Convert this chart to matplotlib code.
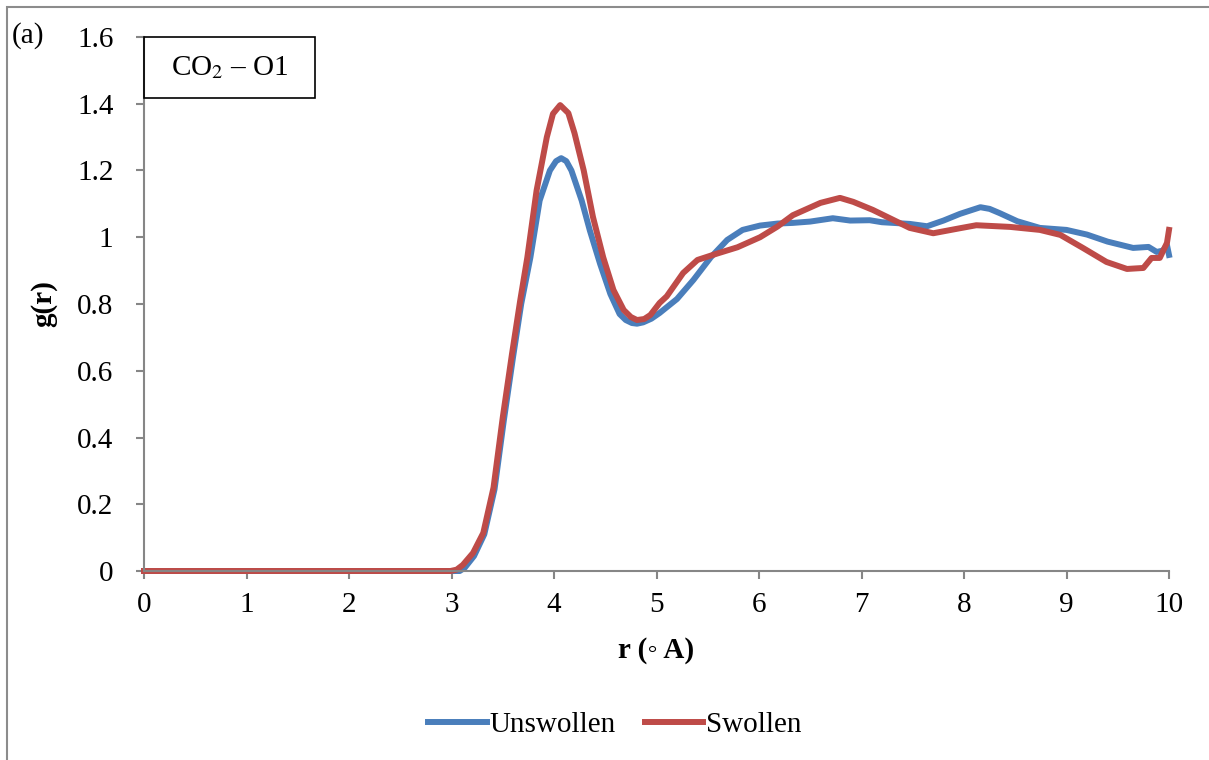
import numpy as np
import matplotlib.pyplot as plt
from matplotlib.patches import Rectangle

# radial distribution g(r) for CO2 around O1
r_unswollen = [0, 3.0, 3.08, 3.13, 3.22, 3.32, 3.42, 3.51, 3.6, 3.68, 3.77,
               3.86, 3.96, 4.02, 4.07, 4.12, 4.17, 4.27, 4.35, 4.45, 4.55,
               4.64, 4.7, 4.76, 4.81, 4.87, 4.95, 5.03, 5.2, 5.36, 5.53, 5.69,
               5.84, 6.01, 6.18, 6.33, 6.5, 6.72, 6.89, 7.08, 7.2, 7.31, 7.47,
               7.64, 7.8, 7.96, 8.16, 8.25, 8.35, 8.52, 8.74, 9.0, 9.2, 9.4,
               9.65, 9.8, 9.88, 9.94, 9.98, 10.0]
g_unswollen = [0, 0, 0.0, 0.01, 0.045, 0.11, 0.245, 0.45, 0.64, 0.80, 0.94,
               1.11, 1.20, 1.228, 1.237, 1.228, 1.20, 1.11, 1.02, 0.92, 0.83,
               0.77, 0.752, 0.743, 0.741, 0.745, 0.756, 0.773, 0.815, 0.872,
               0.94, 0.992, 1.022, 1.035, 1.041, 1.043, 1.047, 1.057, 1.05,
               1.051, 1.045, 1.043, 1.040, 1.033, 1.05, 1.07, 1.09, 1.085,
               1.072, 1.048, 1.028, 1.022, 1.008, 0.987, 0.968, 0.971, 0.956,
               0.96, 0.977, 0.947]

r_swollen = [0, 2.99, 3.05, 3.11, 3.21, 3.31, 3.41, 3.5, 3.59, 3.67, 3.74,
             3.83, 3.93, 3.99, 4.06, 4.14, 4.2, 4.29, 4.38, 4.48, 4.58, 4.68,
             4.75, 4.81, 4.88, 4.94, 5.03, 5.1, 5.26, 5.4, 5.59, 5.79, 6.01,
             6.18, 6.33, 6.6, 6.79, 6.92, 7.11, 7.31, 7.47, 7.7, 7.96, 8.12,
             8.45, 8.74, 8.94, 9.16, 9.39, 9.59, 9.75, 9.83, 9.91, 9.98, 10.0]
g_swollen = [0, 0, 0.004, 0.018, 0.054, 0.114, 0.25, 0.46, 0.65, 0.81, 0.94,
             1.14, 1.30, 1.37, 1.396, 1.372, 1.312, 1.20, 1.061, 0.94, 0.842,
             0.782, 0.761, 0.752, 0.755, 0.767, 0.803, 0.823, 0.893, 0.932,
             0.951, 0.97, 1.0, 1.032, 1.066, 1.103, 1.118, 1.106, 1.082, 1.052,
             1.028, 1.012, 1.027, 1.036, 1.031, 1.022, 1.007, 0.968, 0.926,
             0.905, 0.908, 0.938, 0.938, 0.983, 1.022]

plt.rcParams['font.family'] = ['Liberation Serif', 'DejaVu Serif']
plt.rcParams['font.size'] = 21

W, H = 1209, 760
fig = plt.figure(figsize=(W / 100, H / 100), dpi=100)
ax = fig.add_axes([144 / W, 1 - 571 / H, (1169 - 144) / W, (571 - 37) / H])

grey = '#868686'
ax.plot(r_unswollen, g_unswollen, color='#4A7EBB', lw=4.3, label='Unswollen',
        solid_joinstyle='round', clip_on=False)
ax.plot(r_swollen, g_swollen, color='#BE4B48', lw=4.3, label='Swollen',
        solid_joinstyle='round', clip_on=False)

ax.set_xlim(0, 10)
ax.set_ylim(0, 1.6)
ax.set_xticks(range(0, 11))
yt = np.arange(0, 1.61, 0.2)
ax.set_yticks(yt)
ax.set_yticklabels(['%g' % round(v, 1) for v in yt])
for s in ['top', 'right']:
    ax.spines[s].set_visible(False)
for s in ['left', 'bottom']:
    ax.spines[s].set_color(grey)
    ax.spines[s].set_linewidth(1.5)
ax.tick_params(axis='both', colors=grey, labelcolor='black', width=1.5, length=6)
ax.tick_params(axis='y', pad=16)
ax.tick_params(axis='x', pad=9)

ax.set_xlabel('r (\u25e6 A)', fontweight='bold', labelpad=14)
ax.set_ylabel('g(r)', fontweight='bold', labelpad=14)

# panel tag and label box
fig.text(12 / W, 1 - 36 / H, '(a)', va='center', ha='left')
fig.patches.append(Rectangle((144 / W, 1 - 98 / H), (315 - 144) / W, 61 / H,
                             transform=fig.transFigure, fill=False,
                             edgecolor='black', lw=1.2))
fig.text(230 / W, 1 - 68 / H, 'CO$_2$ \u2013 O1', va='center', ha='center',
         math_fontfamily='stix')

# outer frame
fig.patches.append(Rectangle((7 / W, -0.1), 1.2, 1.1 - 7 / H,
                             transform=fig.transFigure, fill=False,
                             edgecolor='#8c8c8c', lw=1.5, clip_on=False))

fig.legend(loc='center', bbox_to_anchor=(615 / W, 1 - 725 / H), ncol=2,
           frameon=False, handlelength=2.0, handletextpad=0.1,
           columnspacing=1.0, fontsize=21)

fig.savefig('out.png', dpi=100)
